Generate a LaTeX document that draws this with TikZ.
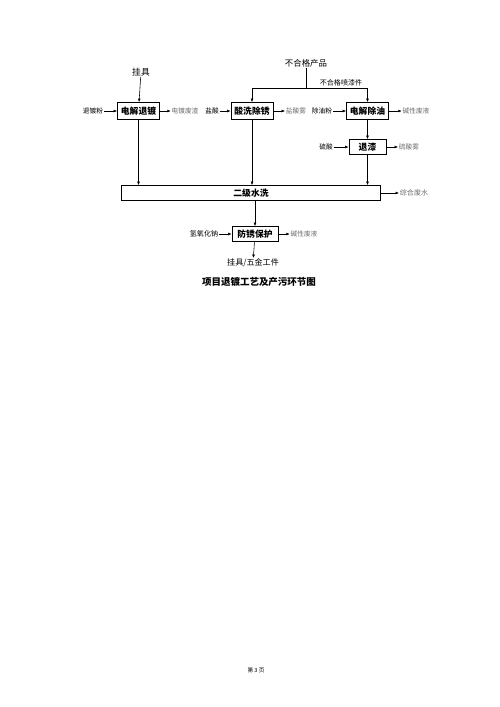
\documentclass[tikz,border=0pt]{standalone}
\usepackage{fontspec}
\setmainfont{Noto Sans CJK SC}
\usepackage{xcolor}
\usetikzlibrary{arrows.meta,positioning}
\definecolor{wastegray}{HTML}{6E6E6E}

\begin{document}
\begin{tikzpicture}[
  x=0.5mm,y=-0.5mm,
  font=\fontsize{9.5}{11}\selectfont,
  box/.style={draw,line width=0.9pt,inner sep=0pt,minimum width=21mm,minimum height=8.5mm,font=\fontsize{12.5}{14}\selectfont\bfseries},
  arr/.style={-{Latex[length=5pt,width=4pt]},line width=0.8pt},
  feed/.style={inner sep=1pt},
  waste/.style={inner sep=1pt,text=wastegray},
  head/.style={inner sep=1pt,font=\fontsize{12}{14}\selectfont}
]
\useasboundingbox[fill=white] (0,0) rectangle (500,707);
% process boxes
\node[box] (strip) at (138.5,111) {电解退镀};
\node[box] (pickle) at (252,111) {酸洗除锈};
\node[box] (degrease) at (367.5,111) {电解除油};
\node[box,minimum width=18.5mm,minimum height=7.5mm] (depaint) at (367.5,147) {退漆};
\node[box,minimum width=129.5mm,minimum height=7.5mm] (rinse) at (251,193) {二级水洗};
\node[box,minimum width=23mm,minimum height=7.5mm] (rustproof) at (255,234) {防锈保护};
% inputs and products
\node[head,font=\fontsize{12.5}{14}\selectfont] (rack) at (141,72) {挂具};
\node[head] (reject) at (306,63) {不合格产品};
\coordinate (split) at (306,88.5);
\node[inner sep=1pt,font=\fontsize{10}{12}\selectfont] (painted) at (341,82.5) {不合格喷漆件};
\node[feed] (stripper) at (93,111) {退镀粉};
\node[feed] (hcl) at (212,111) {盐酸};
\node[feed] (degreaser) at (322,111) {除油粉};
\node[feed] (acid) at (326,147) {硫酸};
\node[feed,font=\fontsize{10}{12}\selectfont] (naoh) at (204,234) {氢氧化钠};
% wastes
\node[waste] (slag) at (185,111) {电镀废渣};
\node[waste] (hclmist) at (296,111) {盐酸雾};
\node[waste] (alkali) at (416,111) {碱性废液};
\node[waste] (mist) at (409,147) {硫酸雾};
\node[waste,font=\fontsize{10}{12}\selectfont] (wastewater) at (414,193) {综合废水};
\node[waste] (rustwaste) at (304,234) {碱性废液};
% output and captions
\node[head,font=\fontsize{11.5}{14}\selectfont] (product) at (253,263) {挂具/五金工件};
\node[font=\fontsize{13.5}{16}\selectfont\bfseries] (caption) at (259,282) {项目退镀工艺及产污环节图};
\node[font=\fontsize{8}{10}\selectfont] (page) at (256,670) {第 3 页};

\draw[arr] (rack) -- (strip);
\draw[line width=0.8pt] (reject) -- (split);
\draw[arr] (split) -| (pickle.north);
\draw[arr] (split) -| (degrease.north);
\draw[arr] (stripper) -- (strip);
\draw[arr] (strip) -- (slag);
\draw[arr] (hcl) -- (pickle);
\draw[arr] (pickle) -- (hclmist);
\draw[arr] (degreaser) -- (degrease);
\draw[arr] (degrease) -- (alkali);
\draw[arr] (degrease) -- (depaint);
\draw[arr] (acid) -- (depaint);
\draw[arr] (depaint) -- (mist);
\draw[arr] (strip) -- (strip |- rinse.north);
\draw[arr] (pickle) -- (pickle |- rinse.north);
\draw[arr] (depaint) -- (depaint |- rinse.north);
\draw[arr] (rinse) -- (wastewater);
\draw[arr] (rinse.south -| rustproof) -- (rustproof);
\draw[arr] (naoh) -- (rustproof);
\draw[arr] (rustproof) -- (rustwaste);
\draw[arr] (rustproof) -- (product);
\end{tikzpicture}
\end{document}
